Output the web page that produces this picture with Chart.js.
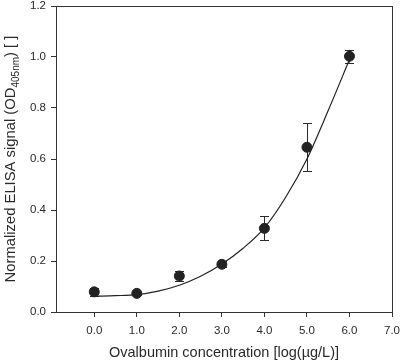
<!DOCTYPE html>
<html>
<head>
<meta charset="utf-8">
<script src="https://cdn.jsdelivr.net/npm/chart.js@4"></script>
<style>
  html, body { margin: 0; padding: 0; background: #fff; }
  #wrap { width: 400px; height: 362px; position: relative; }
</style>
</head>
<body>
<div id="wrap"><canvas id="grafico"></canvas></div>
<script>
// datos
const concLog = [0, 1, 2, 3, 4, 5, 6];
const signal = [0.079, 0.073, 0.141, 0.187, 0.328, 0.646, 1.003];
const signalErr = [0.016, 0.006, 0.021, 0.012, 0.047, 0.095, 0.025];

// curva ajustada (leida punto a punto)
const fitX = [0, 0.5, 1, 1.5, 2, 2.5, 3, 3.5, 4, 4.5, 5, 5.5, 6];
const fitY = [0.062, 0.064, 0.068, 0.082, 0.105, 0.14, 0.188, 0.25, 0.33, 0.45, 0.6, 0.79, 0.99];

const xTicks = [0, 1, 2, 3, 4, 5, 6, 7];
const yTicks = [0, 0.2, 0.4, 0.6, 0.8, 1.0, 1.2];

const fontFam = "'Liberation Sans', Arial, sans-serif";
const ink = '#2a2a2a';

// barras de error + marco + titulo Y con subindice
const extras = {
  id: 'extras',
  beforeDatasetsDraw(chart) {
    const ctx = chart.ctx;
    const xs = chart.scales.x, ys = chart.scales.y;
    ctx.save();
    ctx.strokeStyle = ink;
    ctx.lineWidth = 1;
    concLog.forEach((c, i) => {
      const px = Math.round(xs.getPixelForValue(c)) + 0.5;
      const top = ys.getPixelForValue(signal[i] + signalErr[i]);
      const bot = ys.getPixelForValue(signal[i] - signalErr[i]);
      ctx.beginPath();
      ctx.moveTo(px, top); ctx.lineTo(px, bot);
      ctx.moveTo(px - 4.5, Math.round(top) + 0.5); ctx.lineTo(px + 4.5, Math.round(top) + 0.5);
      ctx.moveTo(px - 4.5, Math.round(bot) + 0.5); ctx.lineTo(px + 4.5, Math.round(bot) + 0.5);
      ctx.stroke();
    });
    ctx.restore();
  },
  afterDraw(chart) {
    const ctx = chart.ctx;
    const a = chart.chartArea;
    ctx.save();
    ctx.strokeStyle = '#333';
    ctx.lineWidth = 1;
    ctx.strokeRect(Math.round(a.left) + 0.5, Math.round(a.top) + 0.5,
                   Math.round(a.right - a.left), Math.round(a.bottom - a.top));

    // titulo eje Y
    const partA = 'Normalized ELISA signal (OD';
    const partSub = '405nm';
    const partB = ') [ ]';
    const big = '14.8px ' + fontFam, small = '10px ' + fontFam;
    ctx.font = big; const wA = ctx.measureText(partA).width, wB = ctx.measureText(partB).width;
    ctx.font = small; const wS = ctx.measureText(partSub).width;
    const total = wA + wS + wB;
    ctx.translate(11, (a.top + a.bottom) / 2);
    ctx.rotate(-Math.PI / 2);
    ctx.fillStyle = ink;
    ctx.textBaseline = 'middle';
    ctx.textAlign = 'left';
    let x0 = -total / 2;
    ctx.font = big; ctx.fillText(partA, x0, 0); x0 += wA;
    ctx.font = small; ctx.fillText(partSub, x0, 5); x0 += wS;
    ctx.font = big; ctx.fillText(partB, x0, 0);
    ctx.restore();
  }
};

const ctx = document.getElementById('grafico').getContext('2d');
const myChart = new Chart(ctx, {
  type: 'scatter',
  data: {
    datasets: [
      {
        label: 'Signal',
        data: concLog.map((c, i) => ({ x: c, y: signal[i] })),
        backgroundColor: '#222',
        borderColor: '#222',
        pointRadius: 5,
        pointHoverRadius: 5,
        showLine: false,
        order: 0
      },
      {
        label: 'Fit',
        type: 'line',
        data: fitX.map((c, i) => ({ x: c, y: fitY[i] })),
        borderColor: '#222',
        borderWidth: 1.2,
        pointRadius: 0,
        fill: false,
        cubicInterpolationMode: 'monotone',
        order: 1
      }
    ]
  },
  options: {
    responsive: true,
    maintainAspectRatio: false,
    animation: false,
    layout: { padding: { top: 5, right: 8, left: 0, bottom: 0 } },
    plugins: {
      legend: { display: false },
      tooltip: { enabled: false }
    },
    scales: {
      x: {
        type: 'linear',
        min: -0.9,
        max: 7,
        afterBuildTicks: scale => { scale.ticks = xTicks.map(v => ({ value: v })); },
        afterFit: scale => {
          scale.height = 50;
          scale.paddingLeft = 0;
          scale.paddingRight = 0;
        },
        grid: { display: true, drawOnChartArea: false, drawTicks: true, tickLength: 5, tickColor: '#333' },
        border: { display: true, color: '#333' },
        ticks: {
          color: ink,
          padding: 7,
          maxRotation: 0,
          font: { family: fontFam, size: 11.5 },
          callback: v => Number(v).toFixed(1)
        },
        title: {
          display: true,
          text: 'Ovalbumin concentration [log(µg/L)]',
          color: ink,
          font: { family: fontFam, size: 14.5 },
          padding: { top: 6, bottom: 0 }
        }
      },
      y: {
        min: 0,
        max: 1.2,
        afterBuildTicks: scale => { scale.ticks = yTicks.map(v => ({ value: v })); },
        afterFit: scale => {
          scale.width = 56;
          scale.paddingTop = 0;
          scale.paddingBottom = 0;
        },
        grid: { display: true, drawOnChartArea: false, drawTicks: true, tickLength: 5, tickColor: '#333' },
        border: { display: true, color: '#333' },
        ticks: {
          color: ink,
          padding: 5,
          font: { family: fontFam, size: 11.5 },
          callback: v => Number(v).toFixed(1)
        }
      }
    }
  },
  plugins: [extras]
});
</script>
</body>
</html>
